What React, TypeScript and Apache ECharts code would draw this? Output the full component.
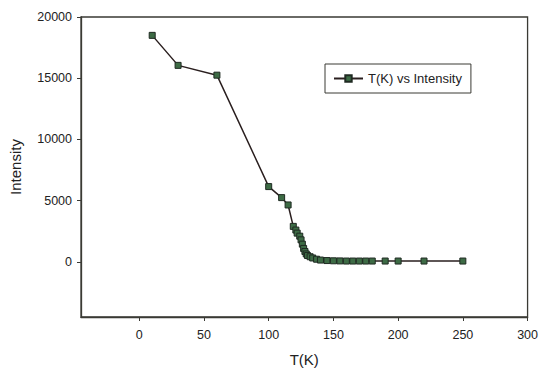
import React, { useEffect, useRef } from "react";
import * as echarts from "echarts";

const temperatures = [10, 30, 60, 100, 110, 115, 119, 121, 122, 124, 125, 126, 127, 128, 129, 130, 132, 134, 137, 140, 145, 150, 155, 160, 165, 170, 175, 180, 190, 200, 220, 250];
const intensities = [18500, 16050, 15250, 6150, 5250, 4650, 2900, 2600, 2350, 2100, 1800, 1450, 1100, 850, 650, 520, 420, 320, 220, 150, 110, 90, 80, 70, 70, 70, 70, 70, 70, 70, 70, 70];
const xTicks = [0, 50, 100, 150, 200, 250, 300];
const yTicks = [0, 5000, 10000, 15000, 20000];
const seriesName = "T(K) vs Intensity";

export default function App() {
  const ref = useRef<HTMLDivElement>(null);
  useEffect(() => {
    const chart = echarts.init(ref.current!, null, { renderer: "svg" });
    const font = "'Liberation Sans', Arial, sans-serif";
    const plain = (v: number) => String(v);
    chart.setOption({
      animation: false,
      backgroundColor: "#ffffff",
      textStyle: { fontFamily: font },
      grid: { left: 80, right: 11, top: 17, bottom: 50, show: true, borderColor: "#3a3a34", borderWidth: 1.3, backgroundColor: "transparent" },
      legend: {
        data: [seriesName],
        left: 325,
        top: 64,
        orient: "horizontal",
        padding: [8, 9, 8, 8],
        itemWidth: 29,
        itemHeight: 8,
        itemGap: 5,
        borderColor: "#3a3a34",
        borderWidth: 1,
        backgroundColor: "#fff",
        textStyle: { fontFamily: font, fontSize: 13, color: "#222" },
      },
      xAxis: {
        type: "value",
        min: -45,
        max: 300,
        name: "T(K)",
        nameLocation: "middle",
        nameGap: 35,
        nameTextStyle: { fontSize: 15, color: "#222", fontFamily: font },
        axisLine: { show: true, onZero: false, lineStyle: { color: "#3a3a34", width: 1.3 } },
        axisTick: { show: true, inside: false, length: 4, customValues: xTicks, lineStyle: { color: "#3a3a34" } },
        axisLabel: { customValues: xTicks, formatter: plain, margin: 11, fontSize: 12.5, color: "#222", fontFamily: font },
        splitLine: { show: false },
      },
      yAxis: {
        type: "value",
        min: -4500,
        max: 20000,
        name: "Intensity",
        nameLocation: "middle",
        nameGap: 58,
        nameTextStyle: { fontSize: 15, color: "#222", fontFamily: font },
        axisLine: { show: true, onZero: false, lineStyle: { color: "#3a3a34", width: 1.3 } },
        axisTick: { show: true, inside: false, length: 4, customValues: yTicks, lineStyle: { color: "#3a3a34" } },
        axisLabel: { customValues: yTicks, formatter: plain, margin: 9, fontSize: 12.5, color: "#222", fontFamily: font },
        splitLine: { show: false },
      },
      series: [
        {
          name: seriesName,
          type: "line",
          data: temperatures.map((t, i) => [t, intensities[i]]),
          symbol: "rect",
          symbolSize: 6,
          showAllSymbol: true,
          itemStyle: { color: "#3d6b45", borderColor: "#1f2a22", borderWidth: 1 },
          lineStyle: { color: "#2a1f1f", width: 1.5 },
        },
      ],
    });
    return () => chart.dispose();
  }, []);
  return <div ref={ref} style={{ width: 541, height: 372, position: "absolute", left: 0, top: 0 }} />;
}
